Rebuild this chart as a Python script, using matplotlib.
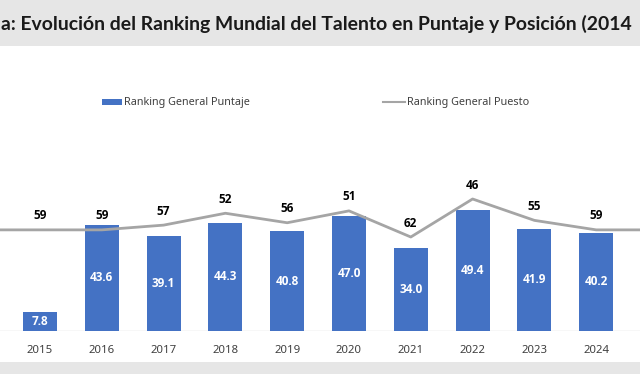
import matplotlib
matplotlib.use("Agg")
from matplotlib import pyplot as plt
from matplotlib.patches import Rectangle, Patch
from matplotlib.lines import Line2D

# Data
years = [2015, 2016, 2017, 2018, 2019, 2020, 2021, 2022, 2023, 2024]
puntaje = [7.8, 43.6, 39.1, 44.3, 40.8, 47.0, 34.0, 49.4, 41.9, 40.2]
# position line runs past the visible area on both sides
puesto_years = [2014, 2015, 2016, 2017, 2018, 2019, 2020, 2021, 2022, 2023, 2024, 2025]
puesto = [59, 59, 59, 57, 52, 56, 51, 62, 46, 55, 59, 59]

title = "a: Evolución del Ranking Mundial del Talento en Puntaje y Posición (2014"

W, H = 640, 374
fig = plt.figure(figsize=(W / 100, H / 100), dpi=100)
fig.patch.set_facecolor("white")

# grey bands top and bottom
band = "#e6e6e6"
fig.add_artist(Rectangle((0, 1 - 46 / H), 1, 46 / H, transform=fig.transFigure,
                         facecolor=band, edgecolor="none", zorder=0))
fig.add_artist(Rectangle((0, 0), 1, 12 / H, transform=fig.transFigure,
                         facecolor=band, edgecolor="none", zorder=0))

t = fig.text(1 / W, 1 - 24 / H, title, fontsize=14, fontweight="bold",
             family="Lato", color="#1a1a1a", va="center", ha="left")
# shrink the title so it just fits the width
r = fig.canvas.get_renderer()
w = t.get_window_extent(r).width
t.set_fontsize(14 * 636 / w)

# axes spans the full width, baseline at y=331px
bottom = (H - 331) / H
top = (H - 60) / H
ax = fig.add_axes([0, bottom, 1, top - bottom])
ax.set_facecolor("none")
ax.set_xlim(2015 - 40 / 61.8, 2015 + 600 / 61.8)
ax.set_ylim(0, 271 / 2.44)

bold_font = "Open Sans"
ax.bar(years, puntaje, width=0.55, color="#4472C4", zorder=2)
for x, v in zip(years, puntaje):
    ax.text(x, v / 2, f"{v:.1f}", ha="center", va="center", color="white",
            fontsize=8.5, fontweight="bold", family=bold_font, zorder=4)

ax.axhline(0, color="#d9d9d9", lw=1, zorder=1)
for s in ax.spines.values():
    s.set_visible(False)
ax.set_yticks([])
ax.set_xticks(years)
ax.set_xticklabels([str(y) for y in years], family="Noto Sans", fontsize=8.2,
                   color="#404040")
ax.tick_params(axis="x", length=0, pad=10)

ax2 = ax.twinx()
ax2.set_ylim(46 + 132 / 2.375, 46 - 139 / 2.375)
ax2.plot(puesto_years, puesto, color="#a5a5a5", lw=2, zorder=3)
for x, v in zip(puesto_years, puesto):
    if x in years:
        ax2.annotate(str(v), (x, v), xytext=(0, 10), textcoords="offset points",
                     ha="center", va="center", fontsize=8.5, fontweight="bold",
                     family=bold_font, color="black")
ax2.set_yticks([])
for s in ax2.spines.values():
    s.set_visible(False)

leg1 = fig.legend(handles=[Patch(facecolor="#4472C4", edgecolor="none")],
                  labels=["Ranking General Puntaje"], loc="center left",
                  bbox_to_anchor=(102 / W, 1 - 103 / H), frameon=False,
                  borderpad=0, borderaxespad=0, handlelength=1.8,
                  handleheight=0.5, handletextpad=0.25,
                  prop={"family": "Noto Sans", "size": 7.8})
leg2 = fig.legend(handles=[Line2D([], [], color="#a5a5a5", lw=1.5)],
                  labels=["Ranking General Puesto"], loc="center left",
                  bbox_to_anchor=(383 / W, 1 - 103 / H), frameon=False,
                  borderpad=0, borderaxespad=0, handlelength=2.0,
                  handletextpad=0.2,
                  prop={"family": "Noto Sans", "size": 7.8})
for leg in (leg1, leg2):
    for t2 in leg.get_texts():
        t2.set_color("#404040")

fig.savefig("out.png", dpi=100)
